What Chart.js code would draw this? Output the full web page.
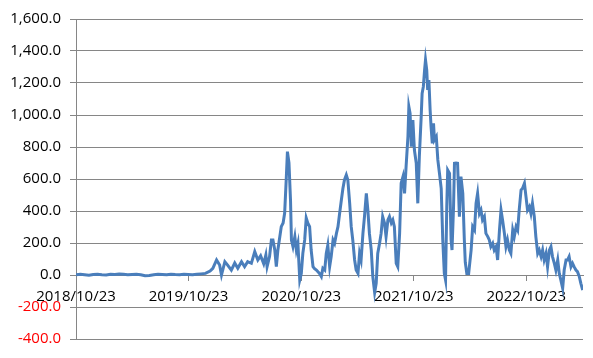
<!DOCTYPE html>
<html>
<head>
<meta charset="utf-8">
<script src="https://cdn.jsdelivr.net/npm/chart.js@4/dist/chart.umd.min.js"></script>
<style>
  html, body { margin: 0; padding: 0; background: #ffffff; }
  #wrap { width: 593px; height: 358px; position: relative; }
</style>
</head>
<body>
<div id="wrap"><canvas id="c" width="593" height="358"></canvas></div>
<script>
// Start date of the series; x values are day offsets from it
const startDate = '2018/10/23';
const dayOffsets = [
  0,14,28,42,56,70,84,98,112,126,140,154,168,182,196,210,224,238,252,266,280,294,308,322,336,350,364,378,392,406,420,
  435,444,456,466,472,483,492,504,515,525,537,547,557,569,580,590,599,609,616,620,628,634,639,645,650,655,666,672,677,682,686,691,696,699,704,710,715,720,726,731,736,742,747,752,758,763,769,774,780,785,790,796,801,807,812,817,823,828,834,839,845,850,855,861,866,871,877,882,888,893,898,904,909,915,920,925,931,936,942,947,952,958,963,969,974,979,985,990,995,1001,1006,1012,1017,1023,1028,1033,1039,1044,1050,1055,1061,1066,1071,1077,1080,1084,1088,1093,1098,1104,1109,1114,1120,1123,1127,1131,1134,1138,1141,1145,1149,1152,1156,1160,1163,1169,1174,1179,1185,1190,1195,1199,1203,1206,1212,1217,1220,1225,1228,1233,1238,1244,1249,1255,1260,1263,1268,1274,1282,1287,1293,1298,1303,1309,1314,1319,1325,1330,1336,1341,1346,1352,1357,1363,1368,1374,1379,1384,1390,1395,1400,1406,1411,1417,1422,1428,1433,1438,1444,1449,1455,1460,1465,1471,1476,1481,1487,1492,1498,1503,1509,1514,1519,1525,1530,1536,1541,1546,1552,1557,1563,1568,1573,1579,1584,1590,1595,1600,1606,1611,1616,1622,1627,1633,1638,1644
];
const seriesValues = [
  2,4,1,-2,3,5,2,0,4,3,6,4,1,3,5,2,-5,-3,2,4,3,1,5,3,2,4,3,1,4,7,10,
  25,42,94,62,0,83,62,31,75,42,83,52,83,73,146,94,120,70,125,52,115,219,219,156,52,156,302,325,387,594,771,700,469,219,177,240,156,198,-31,10,135,219,356,325,302,156,52,40,31,20,10,-10,42,31,135,187,52,115,219,198,260,302,380,469,540,594,625,594,448,302,219,94,31,10,135,94,260,365,510,406,260,156,-10,-110,-52,135,198,260,365,325,240,344,365,325,344,302,73,52,260,573,615,510,677,865,1052,1010,802,969,781,698,448,740,990,1135,1177,1281,1344,1281,1156,1219,1031,927,823,948,844,865,719,640,540,219,10,-31,427,656,635,219,156,427,698,700,698,365,615,510,219,80,10,10,156,302,281,448,510,385,406,344,365,260,240,219,177,198,156,177,94,281,406,344,260,177,219,156,135,281,240,302,281,406,531,542,573,490,406,427,385,448,365,240,135,156,115,156,94,135,52,156,177,115,73,31,94,10,-31,-83,31,94,94,115,52,73,52,31,21,-10,-52,-94
];
const tickDays = [0, 365, 731, 1096, 1461];
const tickLabels = ['2018/10/23', '2019/10/23', '2020/10/23', '2021/10/23', '2022/10/23'];
const yMin = -400, yMax = 1600, yStep = 200;

const points = dayOffsets.map((d, i) => ({ x: d, y: seriesValues[i] }));
const gridGray = '#868686';
const fontSpec = { family: "'Open Sans', 'Liberation Sans', sans-serif", size: 15 };

new Chart(document.getElementById('c'), {
  type: 'line',
  data: {
    datasets: [{
      data: points,
      borderColor: '#4A7EBB',
      borderWidth: 3,
      pointRadius: 0,
      tension: 0,
      fill: false
    }]
  },
  options: {
    responsive: false,
    animation: false,
    events: [],
    layout: { padding: { top: 19, right: 10, bottom: 19, left: 0 } },
    plugins: { legend: { display: false }, tooltip: { enabled: false } },
    scales: {
      x: {
        type: 'linear',
        position: { y: 0 },
        min: 0,
        max: 1645,
        afterBuildTicks: s => { s.ticks = tickDays.map(v => ({ value: v })); },
        ticks: {
          autoSkip: false,
          maxRotation: 0,
          minRotation: 0,
          padding: 8,
          color: '#000000',
          font: fontSpec,
          callback: (v) => { const i = tickDays.indexOf(v); return i >= 0 ? tickLabels[i] : ''; }
        },
        grid: { drawOnChartArea: false, drawTicks: true, tickLength: 5, color: gridGray },
        border: { display: true, color: gridGray, width: 1 }
      },
      y: {
        min: yMin,
        max: yMax,
        afterFit: s => { s.width = 76; },
        ticks: {
          stepSize: yStep,
          padding: 9,
          font: fontSpec,
          color: ctx => (ctx.tick && ctx.tick.value < 0) ? '#FF0000' : '#000000',
          callback: v => Number(v).toLocaleString('en-US', { minimumFractionDigits: 1, maximumFractionDigits: 1 })
        },
        grid: { color: gridGray, lineWidth: 1, tickLength: 6 },
        border: { display: true, color: gridGray, width: 1 }
      }
    }
  }
});
</script>
</body>
</html>
